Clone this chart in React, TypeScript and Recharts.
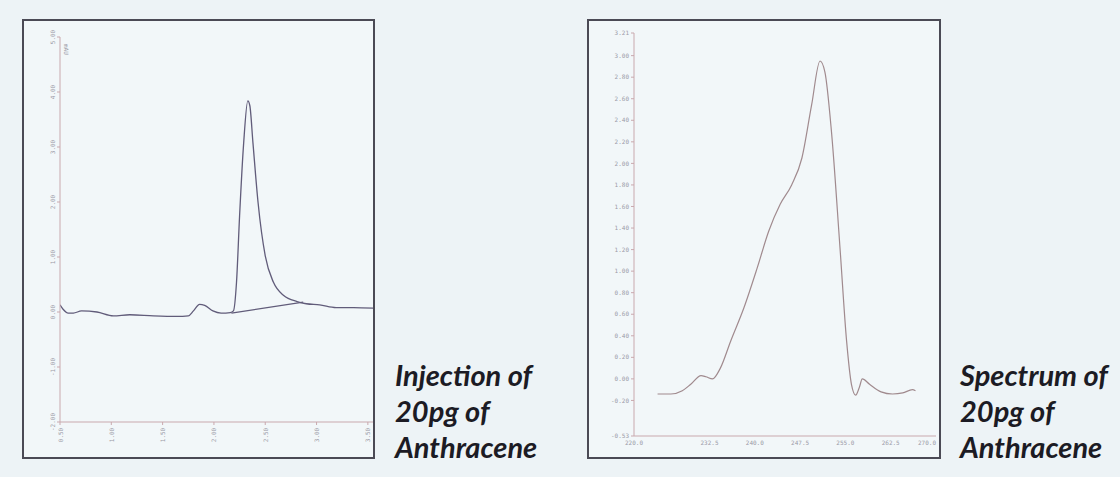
import React from "react";
import { LineChart, Line, XAxis, YAxis } from "recharts";

// chromatogram (left): retention time in min, signal in mAU
const injTime = [0.5, 0.53, 0.58, 0.63, 0.71, 0.86, 1.02, 1.18, 1.41, 1.64, 1.75, 1.8, 1.86, 1.91, 1.99, 2.07, 2.16, 2.19, 2.22, 2.25, 2.29, 2.33, 2.35, 2.38, 2.43, 2.5, 2.58, 2.68, 2.81, 2.9, 3.03, 3.19, 3.36, 3.55];
const injSignal = [0.13, 0.05, -0.02, -0.02, 0.02, 0.0, -0.07, -0.05, -0.07, -0.08, -0.07, 0.02, 0.14, 0.12, 0.02, -0.02, -0.01, 0.02, 0.54, 1.75, 3.08, 3.84, 3.75, 3.08, 1.99, 1.02, 0.54, 0.3, 0.19, 0.15, 0.13, 0.08, 0.08, 0.07];
const baseTime = [2.17, 2.87];
const baseSignal = [-0.02, 0.18];
const injXTicks = [0.5, 1.0, 1.5, 2.0, 2.5, 3.0, 3.5];
const injYTicks = [-2, -1, 0, 1, 2, 3, 4, 5];

// UV spectrum (right): wavelength in nm, absorbance in mAU
const specNm = [223.9, 226.1, 228.0, 229.4, 231.1, 231.9, 233.0, 234.3, 236.0, 238.2, 240.4, 242.3, 244.2, 246.1, 247.8, 249.4, 250.8, 251.6, 252.7, 254.1, 255.2, 256.0, 256.7, 257.3, 257.8, 259.0, 260.9, 262.8, 264.5, 266.1, 266.6];
const specAbs = [-0.14, -0.14, -0.11, -0.05, 0.03, 0.02, 0.0, 0.1, 0.35, 0.66, 1.03, 1.37, 1.62, 1.8, 2.05, 2.54, 2.95, 2.85, 2.29, 1.22, 0.35, -0.05, -0.15, -0.08, 0.0, -0.05, -0.12, -0.14, -0.13, -0.1, -0.11];
const specXTicks = [220.0, 232.5, 240.0, 247.5, 255.0, 262.5, 270.0];
const specYTicks = [-0.53, -0.2, 0.0, 0.2, 0.4, 0.6, 0.8, 1.0, 1.2, 1.4, 1.6, 1.8, 2.0, 2.2, 2.4, 2.6, 2.8, 3.0, 3.21];

const injData = injTime.map((t, i) => ({ t, v: injSignal[i] }));
const baseData = baseTime.map((t, i) => ({ t, b: baseSignal[i] }));
const specData = specNm.map((nm, i) => ({ nm, a: specAbs[i] }));

const tickColor = "#9a9aa6";
const axisColor = "#c9a9ae";
const mono = "DejaVu Sans Mono";

const RotTick = (props: any) => {
  const { x, y, payload, dx = 0, dy = 0 } = props;
  return (
    <g transform={`translate(${x + dx},${y + dy}) rotate(-90)`}>
      <text textAnchor="middle" dominantBaseline="central" fontSize={6} fill={tickColor} fontFamily={mono}>
        {Number(payload.value).toFixed(2)}
      </text>
    </g>
  );
};

// last wavelength tick sits on the frame edge, so anchor it to the end
const NmTick = (props: any) => {
  const { x, y, payload, index } = props;
  const last = index === specXTicks.length - 1;
  return (
    <text x={x} y={y + 7} textAnchor={last ? "end" : "middle"} fontSize={6} fill={tickColor} fontFamily={mono}>
      {Number(payload.value).toFixed(1)}
    </text>
  );
};

const frame: React.CSSProperties = {
  position: "absolute",
  border: "2px solid #4b4a55",
  background: "#f2f7f9",
  boxSizing: "border-box",
};

const caption: React.CSSProperties = {
  position: "absolute",
  fontFamily: "Lato, 'Open Sans', sans-serif",
  fontWeight: 700,
  fontStyle: "italic",
  fontSize: 29,
  lineHeight: "36px",
  color: "#1c1b24",
  whiteSpace: "nowrap",
};

export default function App() {
  return (
    <div style={{ position: "absolute", left: 0, top: 0, width: 1120, height: 477, background: "#edf3f6", overflow: "hidden" }}>

      {/* Chromatogram */}
      <div style={{ ...frame, left: 22, top: 19, width: 353, height: 440 }} />
      <div style={{ position: "absolute", left: 24, top: 21 }}>
        <LineChart width={349} height={436} data={injData} margin={{ top: 16, right: 0, bottom: 0, left: 0 }}>
          <XAxis
            dataKey="t" type="number" domain={[0.5, 3.55]} ticks={injXTicks} allowDataOverflow height={35}
            stroke={axisColor} tickSize={3} tick={<RotTick dy={8} />} interval={0}
          />
          <YAxis
            type="number" domain={[-2, 5]} ticks={injYTicks} width={36} allowDataOverflow
            stroke={axisColor} tickSize={3} tick={<RotTick dx={-3} />} interval={0}
          />
          <Line dataKey="v" type="monotone" stroke="#615c7a" strokeWidth={1.3} dot={false} isAnimationActive={false} />
          <Line data={baseData} dataKey="b" type="linear" stroke="#615c7a" strokeWidth={1.3} dot={false} isAnimationActive={false} />
        </LineChart>
      </div>

      <svg style={{ position: "absolute", left: 0, top: 0 }} width={1120} height={477} pointerEvents="none">
        <text transform="translate(64,44) rotate(90)" fontSize={6} fill={tickColor} fontFamily={mono}>mAU</text>
        <text x={639} y={39} fontSize={5} fill={tickColor} fontFamily={mono}>mAU</text>
        <text x={873} y={38} fontSize={5} fill={tickColor} fontFamily={mono}>Spectrum Name</text>
        <text x={927} y={434} fontSize={5} fill={tickColor} fontFamily={mono}>nm</text>
      </svg>

      <div style={{ ...caption, left: 395, top: 357 }}>
        Injection of<br />20pg of<br />Anthracene
      </div>

      {/* Spectrum */}
      <div style={{ ...frame, left: 587, top: 19, width: 354, height: 440 }} />
      <div style={{ position: "absolute", left: 589, top: 21 }}>
        <LineChart width={350} height={436} data={specData} margin={{ top: 12, right: 3, bottom: 0, left: 0 }}>
          <XAxis
            dataKey="nm" type="number" domain={[220, 270]} ticks={specXTicks} allowDataOverflow height={21}
            stroke={axisColor} tickSize={0} interval={0} tick={<NmTick />}
          />
          <YAxis
            type="number" domain={[-0.53, 3.21]} ticks={specYTicks} width={45} allowDataOverflow
            stroke={axisColor} tickSize={3} interval={0}
            tick={{ fontSize: 6, fill: tickColor, fontFamily: mono }}
            tickFormatter={(v: number) => v.toFixed(2)}
          />
          <Line dataKey="a" type="monotone" stroke="#a08a8e" strokeWidth={1.2} dot={false} isAnimationActive={false} />
        </LineChart>
      </div>

      <div style={{ ...caption, left: 960, top: 357 }}>
        Spectrum of<br />20pg of<br />Anthracene
      </div>
    </div>
  );
}
